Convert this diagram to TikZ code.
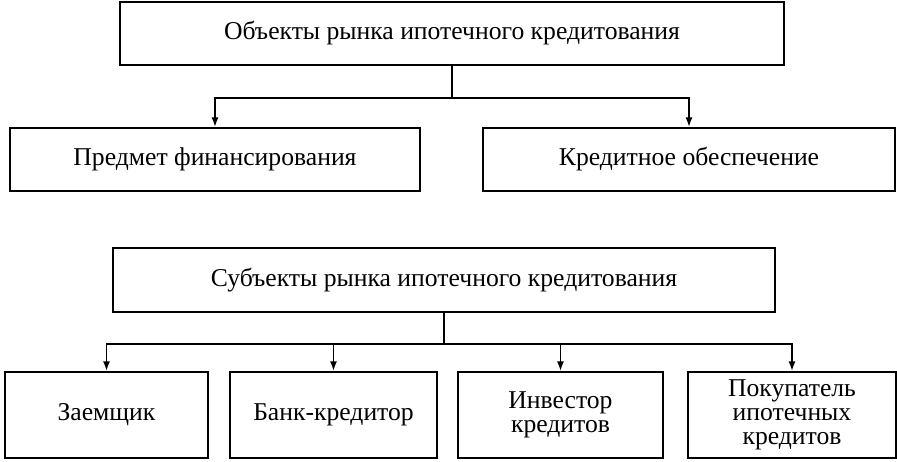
\documentclass[tikz,border=0pt]{standalone}
\usepackage{fontspec}
\setmainfont{Liberation Serif}
\usepackage{tikz}
\usetikzlibrary{arrows.meta,positioning}

\begin{document}
\begin{tikzpicture}[x=0.02cm,y=-0.02cm,
    box/.style={rectangle, draw=black, line width=1.1pt, align=center, inner sep=2pt,
      font=\fontsize{14.6}{13.6}\selectfont},
    link/.style={line width=0.9pt, -{Latex[length=5.5pt,width=4pt]}}]
      \useasboundingbox (0,0) rectangle (897,461);
      % objects
      \node[box, minimum width=13.3cm, minimum height=1.26cm] (obj) at (452,33.5) {Объекты рынка ипотечного кредитования};
      \node[box, minimum width=8.2cm, minimum height=1.26cm] (subject) at (215,159.5) {Предмет финансирования};
      \node[box, minimum width=8.24cm, minimum height=1.26cm] (collat) at (689,159.5) {Кредитное обеспечение};
      % subjects
      \node[box, minimum width=13.24cm, minimum height=1.28cm] (subj) at (444,280) {Субъекты рынка ипотечного кредитования};
      \node[box, minimum width=4.06cm, minimum height=1.72cm] (borrower) at (106.5,415) {Заемщик};
      \node[box, minimum width=4.14cm, minimum height=1.72cm] (bank) at (333.5,415) {Банк-кредитор};
      \node[box, minimum width=4.1cm, minimum height=1.72cm] (investor) at (560.5,415) {Инвестор\\кредитов};
      \node[box, minimum width=4.16cm, minimum height=1.72cm] (buyer) at (792,415) {Покупатель\\ипотечных\\кредитов};
      \draw[link] (obj.south) -- ++(0,32) -| (subject.north);
      \draw[link] (obj.south) -- ++(0,32) -| (collat.north);
      \draw[link] (subj.south) -- ++(0,31) -| (borrower.north);
      \draw[link] (subj.south) -- ++(0,31) -| (bank.north);
      \draw[link] (subj.south) -- ++(0,31) -| (investor.north);
      \draw[link] (subj.south) -- ++(0,31) -| (buyer.north);
\end{tikzpicture}
\end{document}
